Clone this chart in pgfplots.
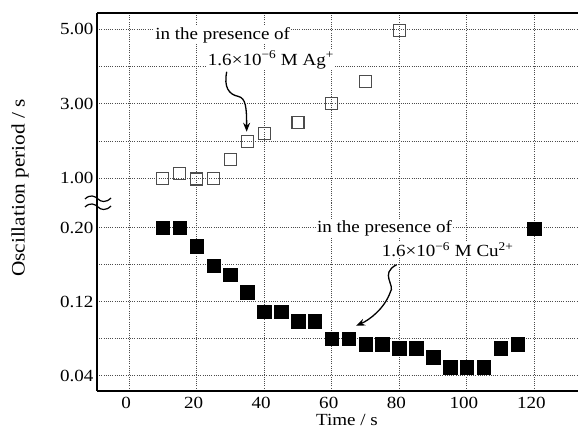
\documentclass[border=0pt]{standalone}
\usepackage{fontspec}
\setmainfont{Liberation Serif}[FakeStretch=1.12]
\usepackage{pgfplots}
\pgfplotsset{compat=1.18}
\usetikzlibrary{arrows.meta}

\pgfplotsset{
  brk/.style={
    scale only axis, width=481bp,
    xmin=-9.5, xmax=132.9,
    xtick={0,20,...,120},
    major tick length=0pt,
    grid=major,
    grid style={black!70, line width=0.8bp, dash pattern=on 1bp off 1.2bp},
    axis line style={line width=1.6bp},
    tick label style={font=\fontsize{17bp}{20bp}\selectfont},
    /pgf/number format/assume math mode=true,
    clip=false,
  },
}

\begin{document}
\begin{tikzpicture}
  % upper panel: Ag+
  \begin{axis}[brk,
    at={(97bp,229bp)}, anchor=south west, height=189.7bp,
    ymin=0.337, ymax=5.43,
    axis x line*=top, axis y line*=left,
    xticklabels={},
    ytick={1,2,3,4,5}, yticklabels={1.00,,3.00,,5.00},
  ]
    \addplot[only marks, mark=square, mark size=6bp,
      mark options={draw=black!70, line width=1.1bp}]
      coordinates {
        (10,1.00)(15,1.12)(20,0.98)(25,1.00)(30,1.51)(35,2.00)(40,2.21)
        (50,2.50)(60,3.00)(70,3.59)(80,4.98)
      };
    \node[fill=white, inner sep=1bp, font=\fontsize{17bp}{20bp}\selectfont]
      at (axis cs:27.7,4.85) {in the presence of};
    \node[fill=white, inner sep=1bp, font=\fontsize{17bp}{20bp}\selectfont]
      at (axis cs:42,4.18) {1.6×10\textsuperscript{−6} M Ag\textsuperscript{+}};
    \draw[line width=1.3bp, -{Stealth[length=9bp, width=7bp]}]
      (axis cs:28.9,3.86) .. controls (axis cs:28.0,3.45) and (axis cs:29.5,3.25)
      .. (axis cs:32.3,3.2) .. controls (axis cs:34.6,3.15) and (axis cs:34.8,2.9)
      .. (axis cs:34.8,2.25);
  \end{axis}

  % lower panel: Cu2+
  \begin{axis}[brk,
    at={(97bp,41.3bp)}, anchor=south west, height=187.7bp,
    ymin=0.0238, ymax=0.2267,
    axis x line*=bottom, axis y line*=left,
    xticklabels={0,20,40,60,80,100,120},
    ytick={0.04,0.08,0.12,0.16,0.20}, yticklabels={0.04,,0.12,,0.20},
    xticklabel style={xshift=-3bp, yshift=-3bp},
  ]
    \addplot[only marks, mark=square*, mark size=6.8bp,
      mark options={draw=black, fill=black}]
      coordinates {
        (10,0.200)(15,0.200)(20,0.180)(25,0.159)(30,0.149)(35,0.130)
        (40,0.109)(45,0.109)(50,0.099)(55,0.099)(60,0.080)(65,0.080)
        (70,0.074)(75,0.074)(80,0.070)(85,0.070)(90,0.060)(95,0.049)
        (100,0.049)(105,0.049)(110,0.070)(115,0.074)(120,0.199)
      };
    \node[fill=white, inner sep=1bp, font=\fontsize{17bp}{20bp}\selectfont]
      at (axis cs:75.6,0.1994) {in the presence of};
    \node[fill=white, inner sep=1bp, font=\fontsize{17bp}{20bp}\selectfont]
      at (axis cs:94.3,0.176) {1.6×10\textsuperscript{−6} M Cu\textsuperscript{2+}};
    \draw[line width=1.3bp, -{Stealth[length=9bp, width=7bp]}]
      (axis cs:79.2,0.160) .. controls (axis cs:74.0,0.150) and (axis cs:79.0,0.138)
      .. (axis cs:77.3,0.130) .. controls (axis cs:75.5,0.112) and (axis cs:71,0.100)
      .. (axis cs:67.2,0.094);
  \end{axis}

  % axis titles
  \node[rotate=90, font=\fontsize{19bp}{22bp}\selectfont] at (20bp,244bp)
    {Oscillation period / s};
  \node[font=\fontsize{17bp}{20bp}\selectfont] at (347bp,12bp) {Time / s};

  % break marks on the y axis
  \foreach \yy in {233bp,225bp}{
    \draw[line width=1.2bp] (85bp,\yy) .. controls (90bp,\yy+5bp) and (95bp,\yy+3bp)
      .. (98bp,\yy) .. controls (101bp,\yy-3bp) and (106bp,\yy-4bp) .. (111bp,\yy+1bp);
  }

  \pgfresetboundingbox
  \useasboundingbox (0,0) rectangle (578bp,432bp);
\end{tikzpicture}
\end{document}
